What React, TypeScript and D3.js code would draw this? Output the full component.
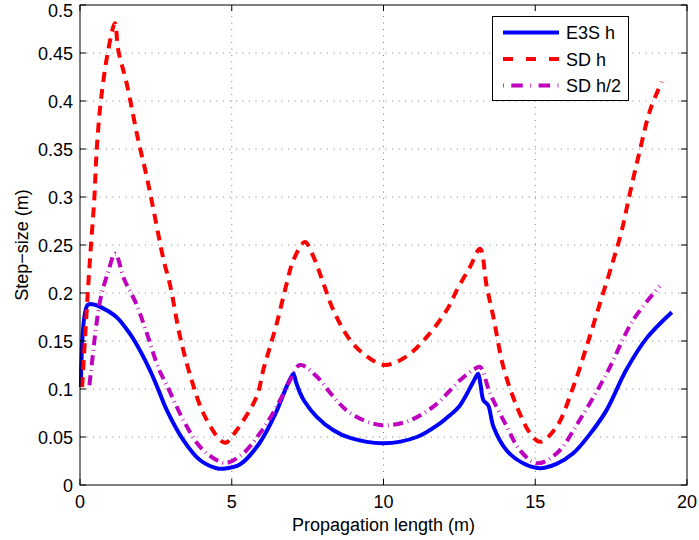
import { useEffect, useRef } from 'react';
import * as d3 from 'd3';

// E3S h (solid blue)
const e3sT = [0.03, 0.25, 0.45, 0.7, 1.2, 1.52, 1.76, 2.3, 2.61, 2.86, 3.4, 3.95, 4.5, 4.72, 5.25, 5.9, 6.45, 6.8, 6.95, 7.03, 7.12, 7.25, 7.4, 7.8, 8.35, 8.9, 10.0, 11.1, 11.85, 12.2, 12.5, 12.95, 13.05, 13.12, 13.2, 13.29, 13.45, 13.62, 14.06, 14.6, 15.15, 15.7, 16.25, 16.8, 17.35, 18.0, 18.67, 19.5];
const e3sV = [0.102, 0.1875, 0.188, 0.185, 0.175, 0.163, 0.152, 0.12, 0.097, 0.078, 0.047, 0.026, 0.0175, 0.017, 0.021, 0.043, 0.075, 0.102, 0.112, 0.116, 0.107, 0.096, 0.087, 0.071, 0.057, 0.049, 0.0435, 0.05, 0.064, 0.073, 0.082, 0.107, 0.113, 0.116, 0.104, 0.0885, 0.083, 0.061, 0.036, 0.0226, 0.0175, 0.022, 0.033, 0.053, 0.078, 0.12, 0.153, 0.18];

// SD h (dashed red)
const sdT = [0.07, 0.27, 0.35, 0.47, 0.55, 0.69, 0.93, 1.15, 1.26, 1.54, 1.92, 2.2, 2.47, 2.75, 2.97, 3.3, 3.68, 4.06, 4.61, 4.8, 5.16, 5.82, 6.04, 6.26, 6.48, 6.81, 7.03, 7.41, 7.69, 8.02, 8.35, 8.9, 9.45, 10.05, 10.76, 11.42, 12.08, 12.45, 12.85, 13.18, 13.4, 13.62, 13.95, 14.39, 14.83, 15.16, 15.71, 16.25, 16.69, 17.13, 17.57, 17.85, 18.12, 18.45, 18.78, 19.17];
const sdV = [0.102, 0.207, 0.245, 0.297, 0.349, 0.401, 0.453, 0.481, 0.453, 0.418, 0.359, 0.321, 0.279, 0.235, 0.208, 0.154, 0.109, 0.075, 0.047, 0.044, 0.057, 0.092, 0.12, 0.144, 0.168, 0.21, 0.234, 0.253, 0.238, 0.21, 0.182, 0.151, 0.134, 0.125, 0.134, 0.154, 0.182, 0.205, 0.227, 0.246, 0.207, 0.175, 0.123, 0.082, 0.054, 0.045, 0.061, 0.102, 0.144, 0.189, 0.234, 0.265, 0.304, 0.349, 0.39, 0.42];

// SD h/2 (dash-dot magenta)
const sdHalfT = [0.31, 0.44, 0.53, 0.69, 0.91, 1.16, 1.46, 1.85, 2.17, 2.61, 2.86, 3.4, 3.95, 4.5, 4.83, 5.38, 5.93, 6.48, 6.92, 7.25, 7.8, 8.35, 8.9, 9.88, 10.76, 11.64, 12.52, 12.96, 13.18, 13.51, 14.06, 14.5, 15.05, 15.71, 16.47, 17.35, 18.23, 19.1];
const sdHalfV = [0.104, 0.14, 0.165, 0.196, 0.22, 0.241, 0.214, 0.189, 0.161, 0.12, 0.104, 0.068, 0.04, 0.026, 0.023, 0.033, 0.054, 0.0816, 0.109, 0.125, 0.113, 0.092, 0.075, 0.0625, 0.066, 0.0816, 0.109, 0.12, 0.123, 0.0955, 0.061, 0.036, 0.0226, 0.033, 0.068, 0.116, 0.172, 0.207];

const xTicks = [0, 5, 10, 15, 20];
const yTicks = [0, 0.05, 0.1, 0.15, 0.2, 0.25, 0.3, 0.35, 0.4, 0.45, 0.5];
const yTickLabels = ['0', '0.05', '0.1', '0.15', '0.2', '0.25', '0.3', '0.35', '0.4', '0.45', '0.5'];

const legendNames = ['E3S h', 'SD h', 'SD h/2'];

const W = 699;
const H = 540;
const plot = { left: 80, right: 687, top: 5, bottom: 485 };
const FONT = '"Liberation Sans", Arial, Helvetica, sans-serif';

const App = () => {
  const ref = useRef<SVGSVGElement>(null);

  useEffect(() => {
    document.body.style.margin = '0';
    const svg = d3.select(ref.current);
    svg.selectAll('*').remove();

    const x = d3.scaleLinear().domain([0, 20]).range([plot.left, plot.right]);
    const y = d3.scaleLinear().domain([0, 0.5]).range([plot.bottom, plot.top]);

    svg.append('rect').attr('width', W).attr('height', H).attr('fill', 'white');

    // grid
    const grid = svg.append('g').attr('stroke', '#808080').attr('stroke-width', 1).attr('stroke-dasharray', '1,5.5');
    xTicks.slice(1, -1).forEach((t) => {
      grid.append('line').attr('x1', x(t)).attr('x2', x(t)).attr('y1', plot.bottom).attr('y2', plot.top);
    });
    yTicks.slice(1, -1).forEach((t) => {
      grid.append('line').attr('x1', plot.left).attr('x2', plot.right).attr('y1', y(t)).attr('y2', y(t));
    });

    // series
    const line = (ts: number[], vs: number[]) =>
      d3
        .line<number>()
        .x((d, i) => x(ts[i]))
        .y((d) => y(d))
        .curve(d3.curveCatmullRom.alpha(0.5))(vs);

    svg
      .append('path')
      .attr('d', line(e3sT, e3sV))
      .attr('fill', 'none')
      .attr('stroke', '#0000ff')
      .attr('stroke-width', 4)
      .attr('stroke-linejoin', 'round');

    svg
      .append('path')
      .attr('d', line(sdT, sdV))
      .attr('fill', 'none')
      .attr('stroke', '#ff0000')
      .attr('stroke-width', 4)
      .attr('stroke-dasharray', '10,7');

    svg
      .append('path')
      .attr('d', line(sdHalfT, sdHalfV))
      .attr('fill', 'none')
      .attr('stroke', '#bf00bf')
      .attr('stroke-width', 4)
      .attr('stroke-dasharray', '10,4.6,0.8,4.6');

    // axes box + ticks
    const ax = svg.append('g').attr('stroke', 'black').attr('stroke-width', 1);
    ax.append('rect')
      .attr('x', plot.left)
      .attr('y', plot.top)
      .attr('width', plot.right - plot.left)
      .attr('height', plot.bottom - plot.top)
      .attr('fill', 'none');
    xTicks.forEach((t) => {
      ax.append('line').attr('x1', x(t)).attr('x2', x(t)).attr('y1', plot.bottom).attr('y2', plot.bottom - 6);
      ax.append('line').attr('x1', x(t)).attr('x2', x(t)).attr('y1', plot.top).attr('y2', plot.top + 6);
    });
    yTicks.forEach((t) => {
      ax.append('line').attr('x1', plot.left).attr('x2', plot.left + 6).attr('y1', y(t)).attr('y2', y(t));
      ax.append('line').attr('x1', plot.right).attr('x2', plot.right - 6).attr('y1', y(t)).attr('y2', y(t));
    });

    const txt = svg.append('g').attr('font-family', FONT).attr('font-size', 18).attr('fill', 'black');
    xTicks.forEach((t) => {
      txt.append('text').attr('x', x(t)).attr('y', 508).attr('text-anchor', 'middle').text(String(t));
    });
    yTicks.forEach((t, i) => {
      // keep the top label inside the page
      txt
        .append('text')
        .attr('x', 73)
        .attr('y', Math.max(y(t) + 6.5, 16.5))
        .attr('text-anchor', 'end')
        .text(yTickLabels[i]);
    });
    txt
      .append('text')
      .attr('x', (plot.left + plot.right) / 2)
      .attr('y', 531)
      .attr('text-anchor', 'middle')
      .text('Propagation length (m)');
    txt
      .append('text')
      .attr('transform', `translate(28,${(plot.top + plot.bottom) / 2}) rotate(-90)`)
      .attr('text-anchor', 'middle')
      .text('Step\u2212size (m)');

    // legend
    const lg = svg.append('g');
    lg.append('rect')
      .attr('x', 492.5)
      .attr('y', 16.5)
      .attr('width', 136)
      .attr('height', 84)
      .attr('fill', 'white')
      .attr('stroke', 'black')
      .attr('stroke-width', 1);
    const rowsY = [32.5, 59, 85.5];
    const styles = [
      { color: '#0000ff', dash: null },
      { color: '#ff0000', dash: '10,13' },
      { color: '#bf00bf', dash: '0.8,7.5,11.5,7.5' },
    ];
    legendNames.forEach((name, i) => {
      const l = lg
        .append('line')
        .attr('x1', 503)
        .attr('x2', 559)
        .attr('y1', rowsY[i])
        .attr('y2', rowsY[i])
        .attr('stroke', styles[i].color)
        .attr('stroke-width', 4);
      if (styles[i].dash) l.attr('stroke-dasharray', styles[i].dash);
      lg.append('text')
        .attr('x', 566)
        .attr('y', rowsY[i] + 6.5)
        .attr('font-family', FONT)
        .attr('font-size', 18)
        .text(name);
    });
  }, []);

  return <svg ref={ref} width={W} height={H} style={{ display: 'block' }} />;
};

export default App;
